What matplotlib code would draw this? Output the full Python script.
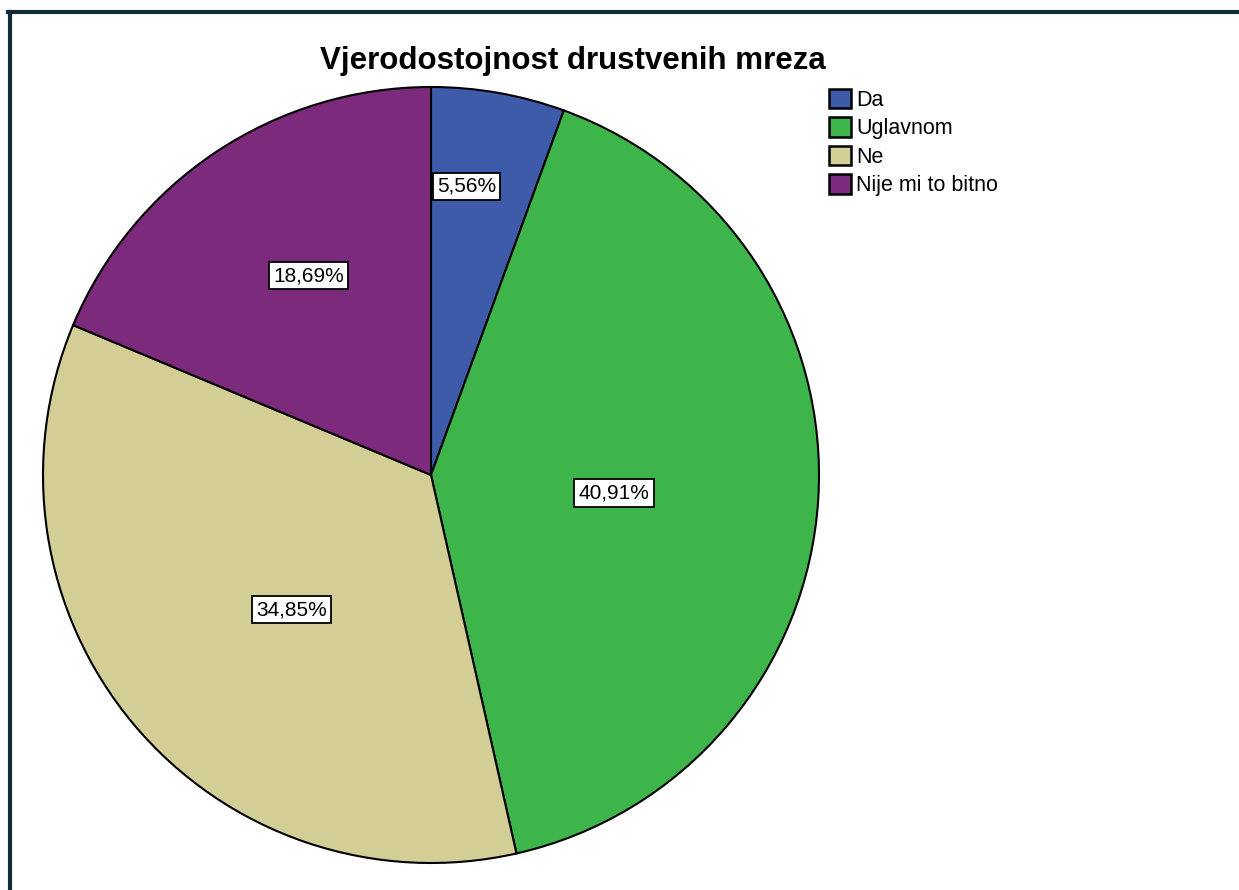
import numpy as np
import matplotlib.pyplot as plt
from matplotlib.patches import Patch

# Data
categories = ['Da', 'Uglavnom', 'Ne', 'Nije mi to bitno']
percents = [5.56, 40.91, 34.85, 18.69]
pct_labels = ['5,56%', '40,91%', '34,85%', '18,69%']
colors = ['#3E5BAA', '#3DB54A', '#D3CD96', '#7C2A7C']
title = 'Vjerodostojnost drustvenih mreza'

# label placement: distance from centre (fraction of radius) and angle nudge (deg)
label_r = [0.75, 0.474, 0.50, 0.603]
label_da = [3, -2, 4, -2]

W, H = 1239, 890
fig = plt.figure(figsize=(W / 100, H / 100), dpi=100)
fig.patch.set_facecolor('white')

# pie centre and radius in pixels
cx, cy, r = 431, 475, 388
ax = fig.add_axes([(cx - r) / W, (H - cy - r) / H, 2 * r / W, 2 * r / H])
wedges, _ = ax.pie(percents, colors=colors, startangle=90, counterclock=False,
                   wedgeprops=dict(edgecolor='black', linewidth=1.5))
ax.set_xlim(-1, 1)
ax.set_ylim(-1, 1)
ax.axis('off')

# percentage labels in boxes
for w, lab, d, da in zip(wedges, pct_labels, label_r, label_da):
    ang = np.deg2rad((w.theta1 + w.theta2) / 2 + da)
    ax.text(d * np.cos(ang), d * np.sin(ang), lab, ha='center', va='center',
            fontsize=15, family='Liberation Sans',
            bbox=dict(boxstyle='square,pad=0.2', facecolor='white',
                      edgecolor='black', linewidth=1.3))

fig.text(573 / W, 1 - 61 / H, title, ha='center', va='center',
         fontsize=22.5, fontweight='bold', family='Liberation Sans')

handles = [Patch(facecolor=c, edgecolor='black', linewidth=1.8) for c in colors]
fig.legend(handles, categories, loc='upper left', bbox_to_anchor=(829 / W, 1 - 89 / H),
           frameon=False, prop=dict(family='Liberation Sans', size=15.5),
           handlelength=1.0, handleheight=1.0, handletextpad=0.25,
           labelspacing=0.3, borderpad=0, borderaxespad=0)

# outer frame (left and top edges)
fig.add_artist(plt.Line2D([9.5 / W, 9.5 / W], [0, 1 - 11.5 / H], color='#132B38',
                          linewidth=3, transform=fig.transFigure))
fig.add_artist(plt.Line2D([8 / W, 1], [1 - 11.5 / H, 1 - 11.5 / H], color='#132B38',
                          linewidth=3, transform=fig.transFigure))

fig.savefig('out.png', dpi=100)
